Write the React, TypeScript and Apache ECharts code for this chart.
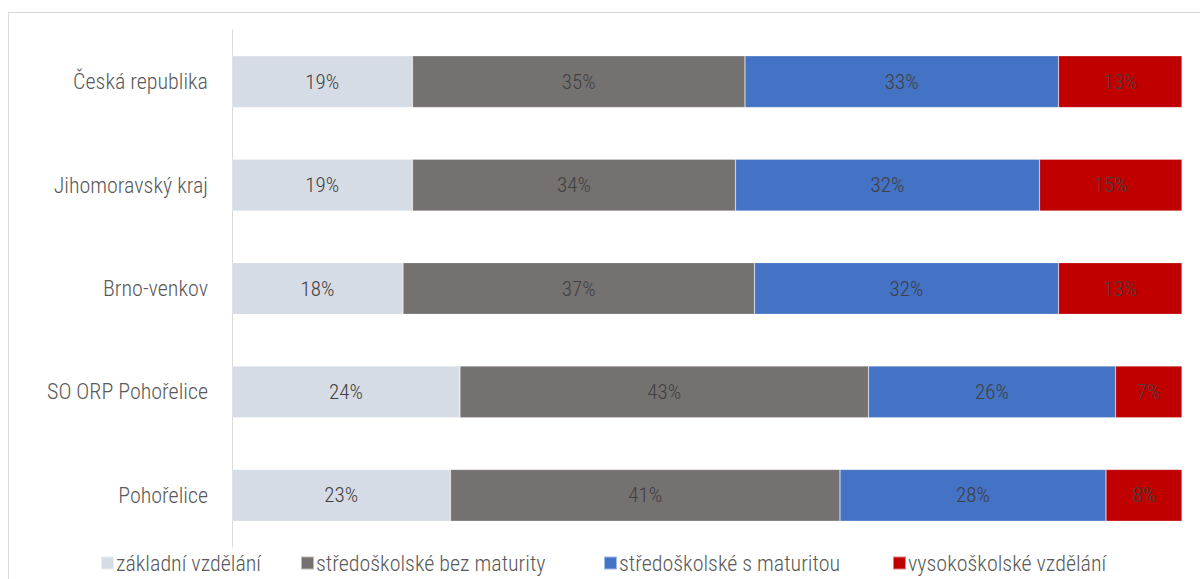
import React, { useEffect, useRef } from "react";
import * as echarts from "echarts";

const categories = ["Česká republika", "Jihomoravský kraj", "Brno-venkov", "SO ORP Pohořelice", "Pohořelice"];
const seriesNames = ["základní vzdělání", "středoškolské bez maturity", "středoškolské s maturitou", "vysokoškolské vzdělání"];
const zakladni = [19, 19, 18, 24, 23];
const bezMaturity = [35, 34, 37, 43, 41];
const sMaturitou = [33, 32, 32, 26, 28];
const vysokoskolske = [13, 15, 13, 7, 8];
const colors = ["#d6dce5", "#767171", "#4472c4", "#c00000"];
const legendLefts = [100, 300, 603, 892];

const FONT = "'Roboto Condensed', 'Liberation Sans Narrow', 'DejaVu Sans Condensed', Roboto, sans-serif";

export default function App() {
  const ref = useRef<HTMLDivElement>(null);
  useEffect(() => {
    if (!ref.current) return;
    const chart = echarts.init(ref.current, null, { renderer: "svg" });
    const data = [zakladni, bezMaturity, sMaturitou, vysokoskolske];
    chart.setOption({
      animation: false,
      textStyle: { fontFamily: FONT },
      graphic: [
        {
          type: "rect",
          shape: { x: 8.5, y: 12.5, width: 1300, height: 700 },
          style: { fill: "none", stroke: "#d9d9d9", lineWidth: 1 },
          silent: true,
        },
      ],
      grid: { left: 232, right: 18, top: 30, bottom: 32, containLabel: false },
      xAxis: { type: "value", min: 0, max: 100, show: false },
      yAxis: {
        type: "category",
        data: categories,
        inverse: true,
        axisLine: { show: true, lineStyle: { color: "#d9d9d9", width: 1 } },
        axisTick: { show: false },
        axisLabel: { fontSize: 22, fontWeight: 300, color: "#595959", margin: 24, fontFamily: FONT },
      },
      legend: seriesNames.map((name, i) => ({
        top: 552,
        left: legendLefts[i],
        padding: 0,
        itemWidth: 13,
        itemHeight: 13,
        icon: "rect",
        textStyle: { fontSize: 22, fontWeight: 300, color: "#595959", fontFamily: FONT, padding: [0, 0, 0, -3] },
        data: [name],
      })),
      series: seriesNames.map((name, i) => ({
        name,
        type: "bar",
        stack: "total",
        barCategoryGap: "50%",
        data: data[i],
        itemStyle: { color: colors[i], borderColor: "rgba(255,255,255,0.5)", borderWidth: 0.5 },
        label: {
          show: true,
          position: "inside",
          formatter: "{c}%",
          fontSize: 21,
          fontWeight: 300,
          color: "#404040",
          fontFamily: FONT,
        },
      })),
    });
    return () => chart.dispose();
  }, []);
  return <div ref={ref} style={{ width: 1200, height: 579, position: "absolute", left: 0, top: 0 }} />;
}
